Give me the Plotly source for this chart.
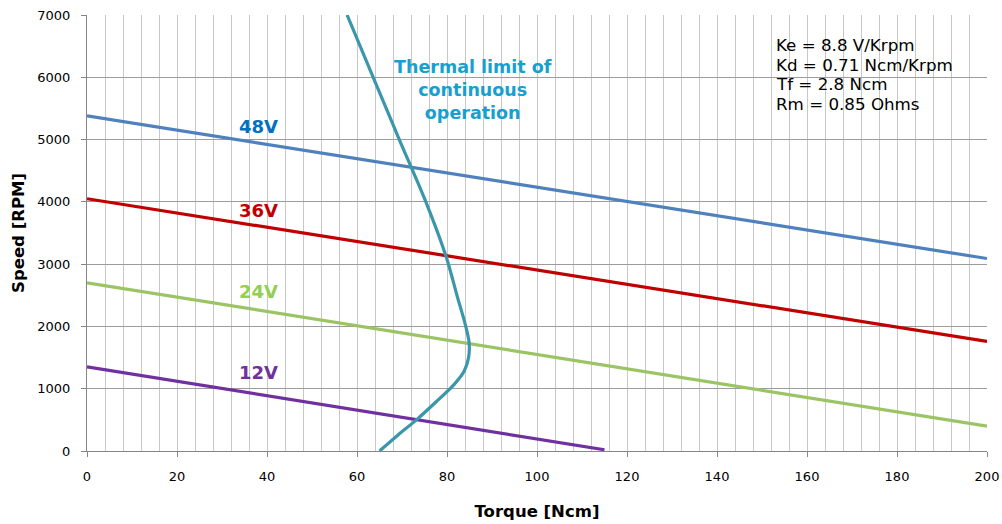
import plotly.graph_objects as go

# Speed/torque lines per supply voltage (Ncm, RPM)
voltages = ["48V", "36V", "24V", "12V"]
torque_ends = [[0, 200], [0, 200], [0, 200], [0, 115]]
speed_ends = [[5380, 3090], [4050, 1760], [2700, 400], [1350, 20]]
line_colors = ["#4f81bd", "#c00000", "#9bc465", "#7030a0"]
label_colors = ["#0070c0", "#c00000", "#92d050", "#7030a0"]
label_torque = [38, 38, 38, 38]
label_speed = [5210, 3860, 2560, 1260]

# Thermal limit of continuous operation
thermal_torque = [57.8, 63.6, 69.4, 75.3, 79.9, 82.4, 84.0, 84.9, 84.8, 83.8, 81.6, 77.6, 73.2, 69.0, 65.0]
thermal_speed = [7000, 6000, 5000, 4000, 3100, 2450, 2050, 1750, 1500, 1280, 1070, 790, 500, 250, 0]

params = ["Ke = 8.8 V/Krpm", "Kd = 0.71 Ncm/Krpm", "Tf = 2.8 Ncm", "Rm = 0.85 Ohms"]

FONT = "DejaVu Sans"

fig = go.Figure()

for name, xs, ys, c in zip(voltages, torque_ends, speed_ends, line_colors):
    fig.add_trace(go.Scatter(x=xs, y=ys, mode="lines", name=name,
                             line=dict(color=c, width=3.2), showlegend=False))

fig.add_trace(go.Scatter(x=thermal_torque, y=thermal_speed, mode="lines",
                         line=dict(color="#3a96aa", width=3.2, shape="spline", smoothing=0.8),
                         showlegend=False))

for name, lx, ly, c in zip(voltages, label_torque, label_speed, label_colors):
    fig.add_annotation(x=lx, y=ly, text=f"<b>{name}</b>", showarrow=False,
                       font=dict(family=FONT, size=18, color=c))

fig.add_annotation(x=85.8, y=5800, text="<b>Thermal limit of<br>continuous<br>operation</b>",
                   showarrow=False, align="center",
                   font=dict(family=FONT, size=17.5, color="#17a0cf"))

# parameter box
PLOT_W, PLOT_H = 900, 436
fig.add_shape(type="rect", xref="paper", yref="paper", x0=0.75, x1=0.99, y0=0.736, y1=0.972,
              fillcolor="white", line=dict(width=0), layer="between")
for i, line in enumerate(params):
    fig.add_annotation(xref="paper", yref="paper", x=(774 - 87) / PLOT_W,
                       y=(451 - (45 + 19.7 * i)) / PLOT_H,
                       xanchor="left", yanchor="middle", align="left", showarrow=False,
                       text=line, font=dict(family=FONT, size=16.7, color="#000000"))

fig.update_layout(
    width=1002, height=524,
    margin=dict(l=87, r=15, t=15, b=73),
    paper_bgcolor="white", plot_bgcolor="white",
    font=dict(family=FONT, size=13, color="#000000"),
    xaxis=dict(range=[0, 200], tick0=0, dtick=20, ticks="outside", ticklen=5,
               tickcolor="#868686", showgrid=True, gridcolor="#c8c8c8", gridwidth=1.4,
               minor=dict(dtick=4, showgrid=True, gridcolor="#c8c8c8", gridwidth=1.4),
               showline=True, linecolor="#868686", linewidth=1, zeroline=False,
               ticklabelstandoff=8, automargin=False,
               title=dict(text="<b>Torque [Ncm]</b>", font=dict(family=FONT, size=16.5), standoff=22),
               tickfont=dict(family=FONT, size=13)),
    yaxis=dict(range=[0, 7000], tick0=0, dtick=1000, ticks="outside", ticklen=5,
               tickcolor="#868686", showgrid=True, gridcolor="#9c9c9c", gridwidth=1.3,
               showline=True, linecolor="#868686", linewidth=1, zeroline=False,
               ticklabelstandoff=8, automargin=False,
               title=dict(text="<b>Speed [RPM]</b>", font=dict(family=FONT, size=16.5), standoff=8),
               tickfont=dict(family=FONT, size=13)),
)

fig.write_html("out.html")
